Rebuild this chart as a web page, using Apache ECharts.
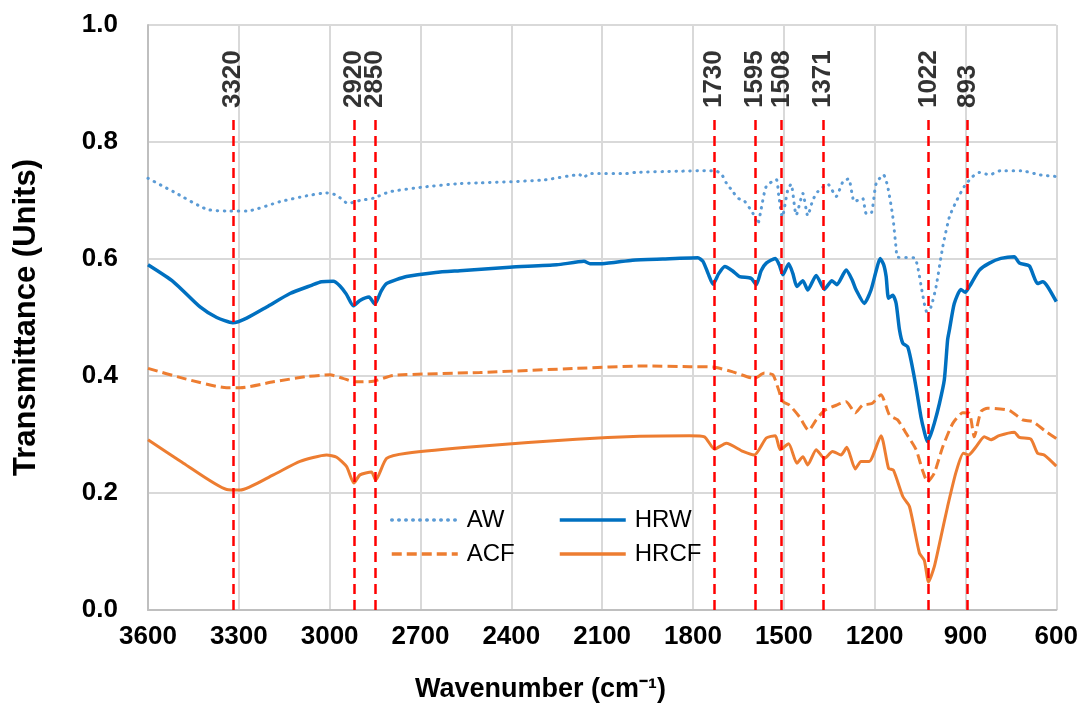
<!DOCTYPE html>
<html lang="en">
<head>
    <meta charset="UTF-8">
    <title>FTIR spectra</title>
    <script src="https://cdn.jsdelivr.net/npm/echarts@6/dist/echarts.min.js"></script>
    <style>
        html, body { margin: 0; padding: 0; background: #fff; }
    </style>
</head>
<body>
    <div id="chart" style="width: 1081px; height: 713px;"></div>

    <script>
        // wavenumber (cm-1) and transmittance
        var awWn = [3600, 3516, 3406, 3335, 3274, 3164, 3076, 3010, 2977, 2939, 2900, 2856, 2801, 2691, 2570, 2504, 2295, 2174, 2163, 2141, 2020, 1990, 1850, 1756, 1729, 1707, 1690, 1668, 1652, 1630, 1602, 1586, 1575, 1558, 1525, 1517, 1505, 1487, 1476, 1459, 1437, 1421, 1404, 1388, 1355, 1327, 1305, 1286, 1267, 1240, 1228, 1212, 1195, 1171, 1157, 1140, 1129, 1124, 1069, 1058, 1042, 1028, 1014, 997, 975, 953, 931, 904, 876, 854, 821, 783, 717, 656, 600];
        var awT = [0.738, 0.715, 0.685, 0.682, 0.682, 0.698, 0.708, 0.713, 0.709, 0.695, 0.700, 0.704, 0.715, 0.723, 0.729, 0.730, 0.735, 0.744, 0.739, 0.746, 0.746, 0.748, 0.750, 0.751, 0.751, 0.746, 0.730, 0.715, 0.704, 0.699, 0.678, 0.660, 0.685, 0.724, 0.736, 0.709, 0.672, 0.718, 0.728, 0.675, 0.712, 0.674, 0.701, 0.715, 0.728, 0.707, 0.732, 0.737, 0.698, 0.704, 0.678, 0.678, 0.729, 0.744, 0.724, 0.672, 0.618, 0.603, 0.602, 0.587, 0.541, 0.510, 0.518, 0.553, 0.621, 0.672, 0.698, 0.724, 0.741, 0.748, 0.744, 0.751, 0.751, 0.744, 0.741];

        var hrwWn = [3600, 3516, 3428, 3373, 3320, 3274, 3208, 3131, 3060, 3027, 2988, 2966, 2945, 2922, 2900, 2870, 2851, 2830, 2812, 2746, 2650, 2570, 2405, 2250, 2160, 2140, 2100, 2000, 1900, 1784, 1767, 1750, 1734, 1715, 1695, 1670, 1646, 1608, 1591, 1575, 1558, 1528, 1515, 1503, 1484, 1470, 1457, 1437, 1421, 1393, 1366, 1341, 1325, 1294, 1275, 1261, 1234, 1212, 1195, 1182, 1170, 1162, 1154, 1140, 1129, 1118, 1107, 1091, 1080, 1063, 1047, 1036, 1026, 1015, 1003, 986, 970, 959, 953, 937, 915, 901, 887, 854, 821, 783, 739, 722, 689, 662, 645, 629, 600];
        var hrwT = [0.590, 0.561, 0.518, 0.500, 0.491, 0.499, 0.518, 0.541, 0.555, 0.561, 0.562, 0.554, 0.540, 0.520, 0.529, 0.535, 0.523, 0.545, 0.558, 0.570, 0.577, 0.580, 0.586, 0.590, 0.596, 0.592, 0.592, 0.598, 0.600, 0.602, 0.596, 0.575, 0.557, 0.575, 0.587, 0.580, 0.570, 0.567, 0.556, 0.580, 0.593, 0.601, 0.590, 0.573, 0.592, 0.575, 0.553, 0.563, 0.547, 0.572, 0.548, 0.563, 0.556, 0.581, 0.565, 0.547, 0.524, 0.547, 0.580, 0.601, 0.590, 0.570, 0.533, 0.538, 0.524, 0.479, 0.456, 0.450, 0.427, 0.380, 0.330, 0.305, 0.288, 0.300, 0.319, 0.353, 0.393, 0.462, 0.479, 0.524, 0.548, 0.543, 0.553, 0.581, 0.593, 0.601, 0.604, 0.593, 0.588, 0.558, 0.561, 0.553, 0.527];

        var acfWn = [3600, 3483, 3340, 3296, 3186, 3076, 2999, 2956, 2917, 2856, 2790, 2504, 2185, 1965, 1811, 1729, 1668, 1597, 1564, 1536, 1517, 1503, 1481, 1448, 1418, 1393, 1366, 1327, 1294, 1264, 1240, 1209, 1179, 1151, 1124, 1096, 1063, 1042, 1025, 1003, 975, 942, 909, 887, 871, 849, 827, 755, 711, 678, 634, 600];
        var acfT = [0.413, 0.396, 0.380, 0.380, 0.390, 0.399, 0.402, 0.396, 0.390, 0.391, 0.401, 0.406, 0.413, 0.417, 0.416, 0.415, 0.407, 0.396, 0.405, 0.402, 0.376, 0.356, 0.350, 0.330, 0.307, 0.325, 0.341, 0.350, 0.356, 0.337, 0.350, 0.353, 0.368, 0.333, 0.325, 0.302, 0.274, 0.239, 0.219, 0.234, 0.279, 0.319, 0.337, 0.336, 0.296, 0.339, 0.345, 0.341, 0.325, 0.322, 0.305, 0.293];

        var hrcfWn = [3600, 3483, 3340, 3296, 3186, 3098, 3010, 2977, 2944, 2920, 2900, 2862, 2848, 2812, 2746, 2504, 2185, 1976, 1811, 1762, 1729, 1690, 1635, 1597, 1558, 1528, 1512, 1484, 1457, 1437, 1421, 1393, 1366, 1339, 1311, 1292, 1264, 1245, 1218, 1179, 1154, 1138, 1107, 1085, 1052, 1036, 1022, 1003, 981, 959, 931, 907, 890, 865, 838, 816, 789, 739, 722, 684, 662, 640, 600];
        var hrcfT = [0.291, 0.251, 0.206, 0.205, 0.231, 0.254, 0.265, 0.261, 0.245, 0.217, 0.231, 0.236, 0.222, 0.259, 0.268, 0.280, 0.292, 0.297, 0.298, 0.296, 0.275, 0.285, 0.271, 0.265, 0.294, 0.298, 0.274, 0.284, 0.251, 0.262, 0.248, 0.274, 0.259, 0.271, 0.265, 0.278, 0.241, 0.254, 0.254, 0.298, 0.242, 0.239, 0.194, 0.177, 0.097, 0.085, 0.048, 0.074, 0.125, 0.177, 0.236, 0.268, 0.265, 0.279, 0.296, 0.291, 0.298, 0.304, 0.295, 0.292, 0.268, 0.265, 0.246];

        // marked bands
        var peaks = [3320, 2920, 2850, 1730, 1595, 1508, 1371, 1022, 893];
        var peakLineTop = 0.84;
        var peakLabelY = 0.858;

        var font = 'Liberation Sans, Arial, sans-serif';

        function pairs(xs, ys) {
            return xs.map(function (x, i) { return [x, ys[i]]; });
        }

        var chart = echarts.init(document.getElementById('chart'));

        // legend: line sample only, no symbol dot
        var legendBase = {
            top: 503, orient: 'vertical',
            itemWidth: 66, itemHeight: 14, itemGap: 10,
            itemStyle: { color: 'rgba(0,0,0,0)', borderWidth: 0, opacity: 0 },
            lineStyle: { width: 3.5 },
            textStyle: { fontFamily: font, fontSize: 24, color: '#000', padding: [0, 0, 0, 4] }
        };

        var option = {
            animation: false,
            title: {
                text: 'Wavenumber (cm\u207B\u00B9)',
                left: 'center',
                top: 676,
                padding: 0,
                textStyle: { fontFamily: font, fontWeight: 'bold', fontSize: 27, color: '#000' }
            },
            legend: [
                Object.assign({ left: 385, data: ['AW', 'ACF'] }, legendBase),
                Object.assign({ left: 553, data: ['HRW', 'HRCF'] }, legendBase)
            ],
            grid: { left: 148, right: 24, top: 25, bottom: 103 },
            xAxis: {
                type: 'value',
                inverse: true,
                min: 600, max: 3600, interval: 300,
                axisLine: { show: true, lineStyle: { color: '#bfbfbf', width: 2 } },
                axisTick: { show: false },
                axisLabel: {
                    margin: 14, fontFamily: font, fontWeight: 'bold', fontSize: 26, color: '#000',
                    formatter: function (v) { return String(v); }
                },
                splitLine: { show: true, lineStyle: { color: '#d9d9d9', width: 2 } }
            },
            yAxis: {
                type: 'value',
                min: 0, max: 1, interval: 0.2,
                name: 'Transmittance (Units)',
                nameLocation: 'middle',
                nameGap: 106,
                nameTextStyle: { fontFamily: font, fontWeight: 'bold', fontSize: 31, color: '#000' },
                axisLine: { show: true, lineStyle: { color: '#bfbfbf', width: 2 } },
                axisTick: { show: false },
                axisLabel: {
                    margin: 30, fontFamily: font, fontWeight: 'bold', fontSize: 26, color: '#000',
                    formatter: function (v) { return v.toFixed(1); }
                },
                splitLine: { show: true, lineStyle: { color: '#d9d9d9', width: 2 } }
            },
            series: [
                {
                    name: 'AW', type: 'line', symbol: 'none', smooth: 0.2,
                    data: pairs(awWn, awT),
                    lineStyle: { color: '#5B9BD5', width: 3, type: [0.5, 6.5], cap: 'round' },
                    itemStyle: { color: '#5B9BD5' }
                },
                {
                    name: 'HRW', type: 'line', symbol: 'none', smooth: 0.2,
                    data: pairs(hrwWn, hrwT),
                    lineStyle: { color: '#0070C0', width: 3.5 },
                    itemStyle: { color: '#0070C0' }
                },
                {
                    name: 'ACF', type: 'line', symbol: 'none', smooth: 0.2,
                    data: pairs(acfWn, acfT),
                    lineStyle: { color: '#ED7D31', width: 3, type: [10, 5] },
                    itemStyle: { color: '#ED7D31' }
                },
                {
                    name: 'HRCF', type: 'line', symbol: 'none', smooth: 0.2,
                    data: pairs(hrcfWn, hrcfT),
                    lineStyle: { color: '#ED7D31', width: 3 },
                    itemStyle: { color: '#ED7D31' }
                },
                {
                    // peak markers: dashed red lines with rotated wavenumber labels
                    name: 'peaks', type: 'scatter', z: 5,
                    symbolSize: 1,
                    itemStyle: { color: 'rgba(0,0,0,0)' },
                    data: peaks.map(function (p) { return [p, peakLabelY]; }),
                    label: {
                        show: true, position: 'inside', rotate: 90,
                        align: 'left', verticalAlign: 'middle',
                        fontFamily: font, fontWeight: 'bold', fontSize: 26, color: '#000',
                        formatter: function (p) { return String(p.value[0]); }
                    },
                    markLine: {
                        silent: true,
                        symbol: ['none', 'none'],
                        label: { show: false },
                        lineStyle: { color: '#FF0000', width: 2.5, type: [10, 6] },
                        data: peaks.map(function (p) {
                            return [{ coord: [p, 0] }, { coord: [p, peakLineTop] }];
                        })
                    }
                }
            ]
        };

        chart.setOption(option);
    </script>
</body>
</html>
